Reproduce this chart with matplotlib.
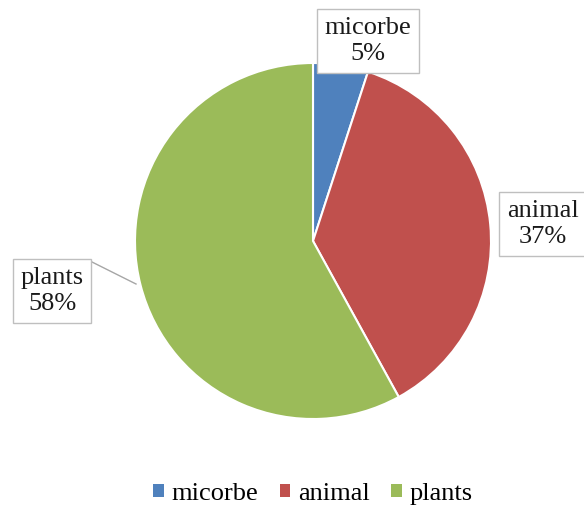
import matplotlib
matplotlib.use("Agg")
import matplotlib.pyplot as plt
from matplotlib.patches import Patch

categories = ["micorbe", "animal", "plants"]
shares = [5, 37, 58]
colors = ["#4F81BD", "#C0504D", "#9BBB59"]

W, H = 584, 515
fig = plt.figure(figsize=(W / 100, H / 100), dpi=100)
ax = fig.add_axes([0, 0, 1, 1])
ax.set_xlim(0, W)
ax.set_ylim(0, H)
ax.set_aspect("equal")
ax.axis("off")

cx, cy, r = 313, H - 241, 178
wedges, _ = ax.pie(shares, startangle=90, counterclock=False,
                   colors=colors, center=(cx, cy), radius=r,
                   wedgeprops=dict(edgecolor="white", linewidth=1.5))
ax.set_xlim(0, W)
ax.set_ylim(0, H)

font = "Liberation Serif"
box = dict(boxstyle="square,pad=0.3", facecolor="white", edgecolor="#bfbfbf", linewidth=1)
label_pos = [(368, H - 41), (543, H - 224), (52, H - 291)]
for name, val, (tx, ty) in zip(categories, shares, label_pos):
    ax.text(tx, ty, f"{name}\n{val}%", ha="center", va="center", fontsize=19,
            family=font, linespacing=1.2, bbox=box, color="#1a1a1a")

# leader line for the plants label
ax.plot([92, 136], [H - 262, H - 284], color="#a6a6a6", linewidth=1)

handles = [Patch(facecolor=c, edgecolor="none") for c in colors]
fig.legend(handles, categories, loc="center", bbox_to_anchor=(313 / W, 1 - 494 / H),
           ncol=3, frameon=False, handlelength=0.4, handleheight=0.4,
           handletextpad=0.3, columnspacing=0.8,
           prop=dict(family=font, size=19))

fig.savefig("out.png", dpi=100)
